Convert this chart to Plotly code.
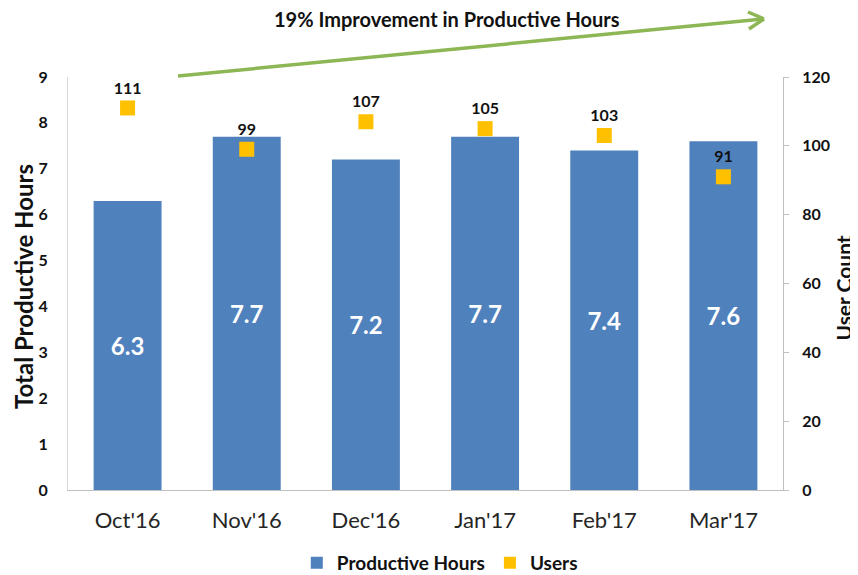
import plotly.graph_objects as go

months = ["Oct'16", "Nov'16", "Dec'16", "Jan'17", "Feb'17", "Mar'17"]
productive_hours = [6.3, 7.7, 7.2, 7.7, 7.4, 7.6]
users = [111, 99, 107, 105, 103, 91]

FONT = "Lato, 'Open Sans', sans-serif"
BAR_C = "#4F81BD"
USR_C = "#FFC000"
GREEN = "#8DB654"

fig = go.Figure()
fig.add_trace(go.Bar(
    x=months, y=productive_hours, name="Productive Hours",
    marker=dict(color=BAR_C, line=dict(width=0)),
    text=[f"{v:.1f}" for v in productive_hours],
    textposition="inside", insidetextanchor="middle",
    textfont=dict(color="white", size=24, family=FONT, weight="bold"),
    yaxis="y",
))
fig.add_trace(go.Scatter(
    x=months, y=users, name="Users", mode="markers+text",
    marker=dict(symbol="square", size=15, color=USR_C),
    text=[str(u) for u in users], textposition="top center",
    textfont=dict(color="#111111", size=16, family=FONT, weight="bold"),
    yaxis="y2",
))

# The page body adds an 8px offset, so the figure is 8px smaller than the window.
fig.update_layout(
    width=850, height=567,
    margin=dict(l=60, r=75, t=69, b=85),
    plot_bgcolor="white", paper_bgcolor="white",
    font=dict(family=FONT, color="#222222"),
    bargap=0.43,
    showlegend=True,
    legend=dict(orientation="h", x=0.52, xanchor="center",
                yref="container", y=1 - 555 / 567, yanchor="middle",
                font=dict(size=19, family=FONT, weight="bold", color="#111111"),
                itemsizing="constant", traceorder="normal"),
    xaxis=dict(showgrid=False, showline=True, linecolor="#BFBFBF", linewidth=1, automargin=False,
               tickfont=dict(size=22, family=FONT, color="#262626"), ticks="",
               ticklabelstandoff=11),
    yaxis=dict(range=[0, 9], dtick=1, showgrid=False, showline=True, linecolor="#D9D9D9",
               automargin=False,
               tickfont=dict(size=16, family=FONT, weight="bold", color="#111111"),
               ticks="", zeroline=False, ticklabelstandoff=16),
    yaxis2=dict(range=[0, 120], dtick=20, overlaying="y", side="right", showgrid=False,
                automargin=False,
                showline=True, linecolor="#BFBFBF", ticks="outside", ticklen=5, tickcolor="#BFBFBF",
                tickfont=dict(size=16, family=FONT, weight="bold", color="#111111"), zeroline=False,
                ticklabelstandoff=10),
)

def px(xp):
    return (xp - 68) / 715.0

def py(yp):
    return (490 - yp) / 413.0

# Axis titles
fig.add_annotation(text="Total Productive Hours", xref="paper", yref="paper",
                   x=px(23), y=py(287), showarrow=False, textangle=-90,
                   xanchor="center", yanchor="middle",
                   font=dict(size=24, family=FONT, weight="bold", color="#111111"))
fig.add_annotation(text="User Count", xref="paper", yref="paper",
                   x=px(857), y=py(288), showarrow=False, textangle=-90,
                   xanchor="right", yanchor="middle",
                   font=dict(size=21, family=FONT, weight="bold", color="#111111"))

# Arrow line and chevron head
fig.add_shape(type="line", xref="paper", yref="paper",
              x0=px(178), y0=py(76), x1=px(763), y1=py(19),
              line=dict(color=GREEN, width=3.5))
fig.add_shape(type="line", xref="paper", yref="paper",
              x0=px(748), y0=py(12), x1=px(764), y1=py(19),
              line=dict(color=GREEN, width=3.5))
fig.add_shape(type="line", xref="paper", yref="paper",
              x0=px(749), y0=py(29), x1=px(764), y1=py(19),
              line=dict(color=GREEN, width=3.5))

fig.add_annotation(text="19% Improvement in Productive Hours", xref="paper", yref="paper",
                   x=px(447), y=py(19), showarrow=False, xanchor="center", yanchor="middle",
                   font=dict(size=20, family=FONT, weight="bold", color="#111111"))

fig.write_html("out.html")
